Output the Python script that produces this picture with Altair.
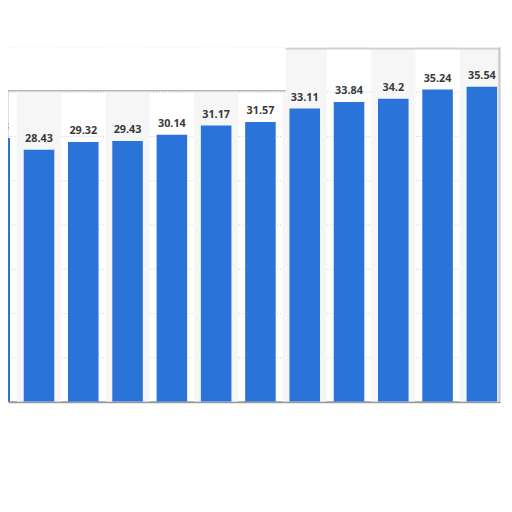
import altair as alt
import pandas as pd

positions = list(range(12))
values = [29.78, 28.43, 29.32, 29.43, 30.14, 31.17, 31.57, 33.11, 33.84, 34.2, 35.24, 35.54]
labels = ["29.78", "28.43", "29.32", "29.43", "30.14", "31.17", "31.57", "33.11", "33.84", "34.2", "35.24", "35.54"]
stripe_pos = [1, 3, 5, 7, 9, 11]

df = pd.DataFrame({"pos": positions, "value": values, "label": labels})
df["x0"] = df["pos"] - 0.345
df["x1"] = df["pos"] + 0.345

sdf = pd.DataFrame({"pos": stripe_pos})
sdf["x0"] = sdf["pos"] - 0.5
sdf["x1"] = sdf["pos"] + 0.5
sdf["y0"] = 0
sdf["y1"] = 40

# panel frame pieces (left part of panel top sits lower in the screenshot)
frame = pd.DataFrame({"x0": [0.3], "x1": [6.57], "y0": [35.1], "y1": [40.5]})
frame_r = pd.DataFrame({"x0": [6.57], "x1": [11.411], "y0": [39.85]})

xscale = alt.Scale(domain=[0.3, 11.411], nice=False, zero=False)
yscale = alt.Scale(domain=[0, 40], nice=False)

stripes = alt.Chart(sdf).mark_rect(color="#f6f6f6", clip=True).encode(
    x=alt.X("x0:Q", scale=xscale, axis=alt.Axis(labels=False, ticks=False, grid=False, title=None,
                                                 domainColor="#9a9a9a", domainWidth=2)),
    x2="x1:Q",
    y=alt.Y("y0:Q", scale=yscale, axis=alt.Axis(values=[5, 10, 15, 20, 25, 30, 35], labels=False, ticks=False,
                                                 domain=False, title=None, grid=True, gridColor="#c8c8c8",
                                                 gridDash=[1, 2], gridWidth=1)),
    y2="y1:Q",
)

cover = alt.Chart(frame).mark_rect(color="white", clip=True).encode(
    x=alt.X("x0:Q", scale=xscale), x2="x1:Q",
    y=alt.Y("y0:Q", scale=yscale), y2="y1:Q",
)

top_line = alt.Chart(frame).mark_rule(color="#b5b5b5", strokeWidth=1.5, clip=True).encode(
    x=alt.X("x0:Q", scale=xscale), x2="x1:Q",
    y=alt.Y("y0:Q", scale=yscale),
)

top_line_r = alt.Chart(frame_r).mark_rule(color="#d0d0d0", strokeWidth=1.5, clip=True).encode(
    x=alt.X("x0:Q", scale=xscale), x2="x1:Q",
    y=alt.Y("y0:Q", scale=yscale),
)

right_line = alt.Chart(frame).mark_rule(color="#c4c4c4", strokeWidth=1.5, clip=True).encode(
    x=alt.datum(11.39, scale=xscale),
    y=alt.datum(0, scale=yscale), y2=alt.datum(40),
)

bars = alt.Chart(df).mark_rect(color="#2a74d9", clip=True).encode(
    x=alt.X("x0:Q", scale=xscale),
    x2="x1:Q",
    y=alt.Y("value:Q", scale=yscale),
    y2=alt.datum(0),
)

text = alt.Chart(df).mark_text(
    font="Open Sans", fontWeight="bold", fontSize=11, color="#3a3a3a", baseline="bottom", dy=-6, clip=True
).encode(
    x=alt.X("pos:Q", scale=xscale),
    y=alt.Y("value:Q", scale=yscale),
    text="label:N",
)

chart = alt.layer(stripes, cover, top_line, top_line_r, right_line, bars, text).properties(
    width=500, height=360,
    autosize=alt.AutoSizeParams(type="none"),
    padding={"left": 0, "top": 36, "right": 4, "bottom": 100},
).configure_view(stroke=None).configure(background="white")

chart.save("out.html", embed_options={"renderer": "svg", "actions": False})
